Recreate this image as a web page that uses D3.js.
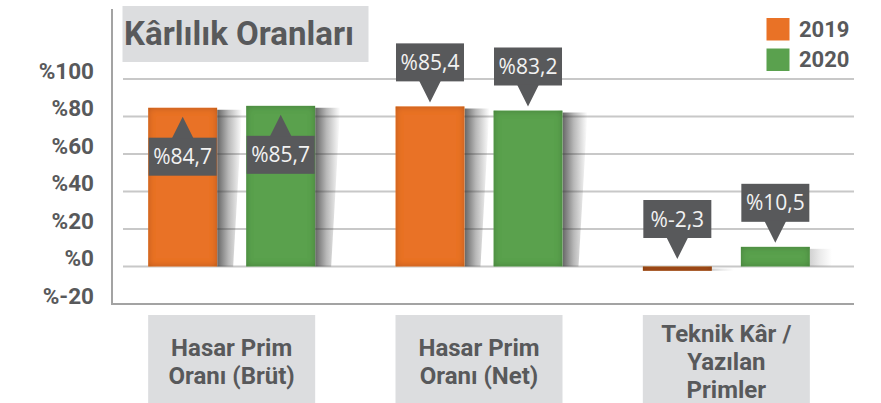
<!DOCTYPE html>
<html><head><meta charset="utf-8">
<script src="https://cdn.jsdelivr.net/npm/d3@7"></script>
<style>body{margin:0;background:#fff}svg{display:block}</style>
</head><body><svg id="c" width="881" height="403"></svg>
<script>
const title = "Kârlılık Oranları";
const categories = ["Hasar Prim Oranı (Brüt)", "Hasar Prim Oranı (Net)", "Teknik Kâr / Yazılan Primler"];
const categoryLines = [["Hasar Prim", "Oranı (Brüt)"], ["Hasar Prim", "Oranı (Net)"], ["Teknik Kâr /", "Yazılan", "Primler"]];
const years = ["2019", "2020"];
const values2019 = [84.7, 85.4, -2.3];
const values2020 = [85.7, 83.2, 10.5];
const yTicks = [-20, 0, 20, 40, 60, 80, 100];
const yTickLabels = ["%-20", "%0", "%20", "%40", "%60", "%80", "%100"];
const calloutMode = ["inside", "above", "above"];

const colors = {"2019": ["#e97226", "#b0521a"], "2020": ["#5aa14e", "#3d7a35"]};
const dark = "#58595b";
const font = "Roboto, 'Open Sans', sans-serif";

const svg = d3.select("#c");
const defs = svg.append("defs");

const y = d3.scaleLinear().domain([-20, 100]).range([304, 79]);
const x0 = d3.scaleBand().domain(categories).range([108, 850]);
const x1 = d3.scaleBand().domain(years).range([-83.5, 83.5]).paddingInner(0.296).paddingOuter(0);

// inner vignette filter
const f = defs.append("filter").attr("id", "inner").attr("x", "-10%").attr("y", "-10%").attr("width", "120%").attr("height", "120%");
f.append("feGaussianBlur").attr("in", "SourceAlpha").attr("stdDeviation", 3.5).attr("result", "blur");
f.append("feComposite").attr("in", "SourceAlpha").attr("in2", "blur").attr("operator", "arithmetic").attr("k2", 1).attr("k3", -1).attr("result", "inv");
f.append("feFlood").attr("flood-color", "#000").attr("flood-opacity", 0.45);
f.append("feComposite").attr("in2", "inv").attr("operator", "in").attr("result", "sh");
const fm = f.append("feMerge");
fm.append("feMergeNode").attr("in", "SourceGraphic");
fm.append("feMergeNode").attr("in", "sh");

const sg = defs.append("linearGradient").attr("id", "shadowGrad").attr("x1", 0).attr("x2", 1).attr("y1", 0).attr("y2", 0);
sg.append("stop").attr("offset", 0).attr("stop-color", "#333").attr("stop-opacity", 0.75);
sg.append("stop").attr("offset", 0.45).attr("stop-color", "#333").attr("stop-opacity", 0.35);
sg.append("stop").attr("offset", 1).attr("stop-color", "#333").attr("stop-opacity", 0);

// Title box
svg.append("rect").attr("x", 122.5).attr("y", 6).attr("width", 246).attr("height", 56).attr("fill", "#dcdddf");
svg.append("text").attr("x", 124).attr("y", 45).attr("font-family", font).attr("font-weight", 700)
  .attr("font-size", 34).attr("fill", dark).attr("textLength", 230).attr("lengthAdjust", "spacingAndGlyphs").text(title);

// gridlines
const gridTicks = yTicks.filter(t => t > -20);
svg.append("g").selectAll("line").data(gridTicks).join("line")
  .attr("x1", 123).attr("x2", 854).attr("y1", d => y(d)).attr("y2", d => y(d))
  .attr("stroke", "#c8c8c8").attr("stroke-width", 2);

// axes lines
svg.append("line").attr("x1", 112).attr("x2", 112).attr("y1", 9).attr("y2", 304).attr("stroke", "#a3a3a3").attr("stroke-width", 2);
svg.append("line").attr("x1", 111).attr("x2", 854).attr("y1", 304).attr("y2", 304).attr("stroke", "#a3a3a3").attr("stroke-width", 2.2);

// y tick labels
svg.append("g").selectAll("text").data(yTicks).join("text")
  .attr("x", 94).attr("y", d => y(d) - 0.5).attr("text-anchor", "end")
  .attr("font-family", font).attr("font-weight", 700).attr("font-size", 22.5).attr("fill", dark)
  .text((d, i) => yTickLabels[i]);

// data
const data = [];
categories.forEach((c, i) => {
  data.push({cat: c, i, year: "2019", v: values2019[i]});
  data.push({cat: c, i, year: "2020", v: values2020[i]});
});
const bx = d => x0(d.cat) + x0.bandwidth() / 2 + x1(d.year);

// shadows
svg.append("g").selectAll("polygon").data(data).join("polygon")
  .attr("points", d => {
    const xr = bx(d) + x1.bandwidth();
    const top = y(Math.max(d.v, 0)) + 2;
    const bot = y(Math.min(d.v, 0));
    const h = bot - top;
    const wt = h > 40 ? 25 : 22, wb = h > 40 ? 16 : 22;
    return [[xr, top], [xr + wt, top], [xr + wb, bot], [xr, bot]].join(" ");
  })
  .attr("fill", "url(#shadowGrad)")
  .attr("opacity", d => Math.abs(d.v) < 20 ? 0.3 : 1);

// bars
svg.append("g").selectAll("rect").data(data).join("rect")
  .attr("x", d => bx(d)).attr("width", x1.bandwidth())
  .attr("y", d => y(Math.max(d.v, 0))).attr("height", d => Math.abs(y(d.v) - y(0)))
  .attr("fill", d => Math.abs(d.v) < 5 ? colors[d.year][1] : colors[d.year][0])
  .attr("filter", "url(#inner)");

// callouts
const fmt = v => "%" + String(v).replace(".", ",");
const bw = 68, bh = 38, tw = 11, th = 21;
const cg = svg.append("g").selectAll("g").data(data).join("g");
cg.each(function(d) {
  const g = d3.select(this);
  const cx = bx(d) + x1.bandwidth() / 2;
  let boxTop, path;
  if (calloutMode[d.i] === "inside") {
    const apex = y(d.v) + 9;
    boxTop = apex + th;
    path = `M${cx - tw},${boxTop + 1} L${cx},${apex} L${cx + tw},${boxTop + 1} Z`;
  } else {
    const apex = y(Math.max(d.v, 0)) - (d.v < 0 ? 7.5 : 4);
    const boxBot = apex - th;
    boxTop = boxBot - bh;
    path = `M${cx - tw},${boxBot - 1} L${cx},${apex} L${cx + tw},${boxBot - 1} Z`;
  }
  g.append("rect").attr("x", cx - bw / 2).attr("y", boxTop).attr("width", bw).attr("height", bh).attr("fill", dark);
  g.append("path").attr("d", path).attr("fill", dark);
  g.append("text").attr("x", cx).attr("y", boxTop + bh / 2 + 7.5).attr("text-anchor", "middle")
    .attr("font-family", "'Open Sans', sans-serif").attr("font-size", 21).attr("fill", "#f2f2f2").text(fmt(d.v));
});

// category boxes
const catG = svg.append("g").selectAll("g").data(categories).join("g");
catG.append("rect").attr("x", d => x0(d) + x0.bandwidth() / 2 - 83.5).attr("y", 315).attr("width", 167).attr("height", 100).attr("fill", "#dcdddf");
catG.each(function(d, i) {
  const lines = categoryLines[i];
  const cx = x0(d) + x0.bandwidth() / 2;
  const start = 370 - (lines.length - 1) * 14;
  d3.select(this).selectAll("text").data(lines).join("text")
    .attr("x", cx).attr("y", (l, j) => start + j * 28).attr("text-anchor", "middle")
    .attr("font-family", font).attr("font-weight", 700).attr("font-size", 24).attr("fill", dark).text(l => l);
});

// legend
const lg = svg.append("g").selectAll("g").data(years).join("g")
  .attr("transform", (d, i) => `translate(766.5, ${18 + i * 30.5})`);
lg.append("rect").attr("width", 23).attr("height", 22.5).attr("fill", d => colors[d][0]);
lg.append("text").attr("x", 32.5).attr("y", 18.7).attr("font-family", font).attr("font-weight", 700)
  .attr("font-size", 22).attr("fill", dark).text(d => d);
</script></body></html>
